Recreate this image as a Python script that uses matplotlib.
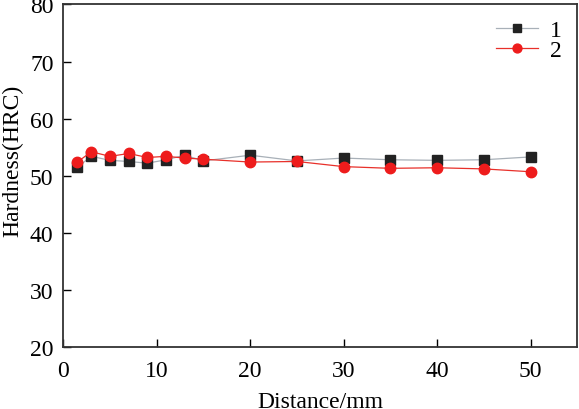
"""
Hardness profile along distance for two samples.
"""

import matplotlib
matplotlib.use("Agg")
import matplotlib.pyplot as plt

# Data
distance = [1.5, 3, 5, 7, 9, 11, 13, 15, 20, 25, 30, 35, 40, 45, 50]
hardness_1 = [51.5, 53.4, 52.7, 52.5, 52.2, 52.8, 53.6, 52.6, 53.6, 52.6,
              53.1, 52.8, 52.7, 52.8, 53.3]
hardness_2 = [52.4, 54.2, 53.4, 53.9, 53.2, 53.4, 53.1, 52.9, 52.4, 52.5,
              51.6, 51.3, 51.4, 51.2, 50.7]
series_labels = ["1", "2"]

plt.rcParams["font.family"] = ["Liberation Serif", "DejaVu Serif"]

fig = plt.figure(figsize=(5.79, 4.10), dpi=100)
ax = fig.add_axes([0.1093, 0.1512, 0.8877, 0.8354])

ax.plot(distance, hardness_1, color="#a8b0b8", linewidth=0.9,
        marker="s", markersize=6.5, markerfacecolor="#222222",
        markeredgecolor="#222222", label=series_labels[0], zorder=3)
ax.plot(distance, hardness_2, color="#e8302a", linewidth=0.9,
        marker="o", markersize=7.5, markerfacecolor="#ee1c1c",
        markeredgecolor="#ee1c1c", label=series_labels[1], zorder=4)

ax.set_xlim(0, 55)
ax.set_ylim(20, 80)
ax.set_xticks([0, 10, 20, 30, 40, 50])
ax.set_yticks([20, 30, 40, 50, 60, 70, 80])
ax.tick_params(direction="in", length=6, width=1, labelsize=17)
ax.tick_params(axis="x", pad=9)
ax.tick_params(axis="y", pad=7)
for spine in ax.spines.values():
    spine.set_linewidth(1.3)
    spine.set_color("#333333")

ax.set_xlabel("Distance/mm", fontsize=17, va="center")
ax.xaxis.set_label_coords(0.5, -0.16)
ax.set_ylabel("Hardness(HRC)", fontsize=17, va="center")
ax.yaxis.set_label_coords(-0.098, 0.546)

leg = ax.legend(loc="upper right", frameon=False, fontsize=17,
                handlelength=1.8, borderaxespad=0.25, labelspacing=-0.08,
                handletextpad=0.5, markerscale=0.85)

fig.savefig("out.png", dpi=100)
